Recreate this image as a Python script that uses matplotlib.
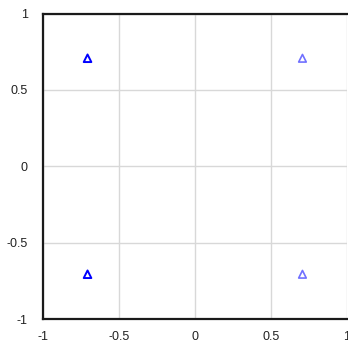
import matplotlib
matplotlib.use("Agg")
import matplotlib.pyplot as plt

plt.rcParams['font.family'] = ['Liberation Sans', 'DejaVu Sans']

# Points on the unit circle at 45-degree diagonals
xs_left = [-0.707, -0.707]
ys_left = [0.707, -0.707]
xs_right = [0.707, 0.707]
ys_right = [0.707, -0.707]

ticks = [-1, -0.5, 0, 0.5, 1]
tick_labels = ["-1", "-0.5", "0", "0.5", "1"]

fig = plt.figure(figsize=(3.48, 3.50), dpi=100)
ax = fig.add_axes([43 / 348, 31 / 350, 304 / 348, 305.5 / 350])

ax.scatter(xs_left, ys_left, marker='^', s=30, facecolors='none',
           edgecolors='#0000ff', linewidths=1.4, zorder=3)
ax.scatter(xs_right, ys_right, marker='^', s=30, facecolors='none',
           edgecolors='#7070ff', linewidths=1.2, zorder=3)

ax.set_xlim(-1, 1)
ax.set_ylim(-1, 1)
ax.set_xticks(ticks)
ax.set_xticklabels(tick_labels)
ax.set_yticks(ticks)
ax.set_yticklabels(tick_labels)
ax.grid(True, color='#d8d8d8', linewidth=1)
ax.set_axisbelow(True)
ax.tick_params(length=0, labelsize=9, colors='#222222')
ax.tick_params(axis='x', pad=9)
ax.tick_params(axis='y', pad=11)

for side in ['top', 'left', 'bottom']:
    ax.spines[side].set_color('#1a1a1a')
    ax.spines[side].set_linewidth(1.6)
ax.spines['right'].set_visible(False)

fig.savefig('out.png', dpi=100)
